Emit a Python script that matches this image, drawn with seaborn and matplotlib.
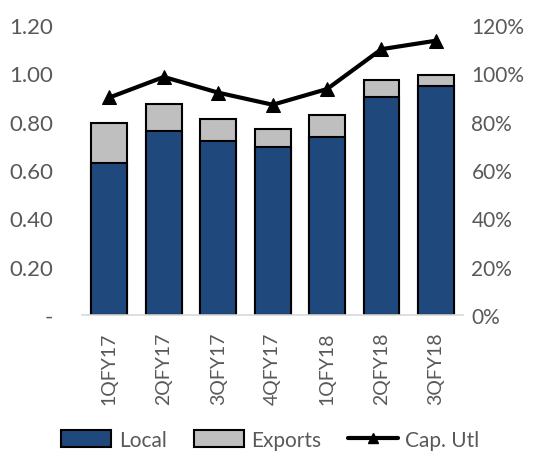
import pandas as pd
import seaborn as sns
import matplotlib.pyplot as plt
from matplotlib.patches import Patch
from matplotlib.lines import Line2D
from matplotlib.ticker import FuncFormatter

quarters = ['1QFY17', '2QFY17', '3QFY17', '4QFY17', '1QFY18', '2QFY18', '3QFY18']
local = [0.63, 0.762, 0.721, 0.696, 0.737, 0.904, 0.946]
exports = [0.166, 0.112, 0.092, 0.075, 0.092, 0.068, 0.046]
cap_utl = [0.90, 0.985, 0.92, 0.87, 0.935, 1.10, 1.135]

BLUE = '#1F497D'
GREY = '#BFBFBF'
TXT = '#595959'

df = pd.DataFrame({'quarter': quarters, 'local': local, 'exports': exports, 'cap': cap_utl})
df['total'] = df['local'] + df['exports']

sns.set_style('white')
plt.rcParams['font.family'] = ['Lato', 'DejaVu Sans']

fig, ax = plt.subplots(figsize=(5.41, 4.56), dpi=100)
fig.subplots_adjust(left=0.152, right=0.856, bottom=0.307, top=0.943)

# stacked bars: total in grey, local drawn over it
sns.barplot(data=df, x='quarter', y='total', color=GREY, edgecolor='black',
            linewidth=1.5, width=0.66, saturation=1, ax=ax)
sns.barplot(data=df, x='quarter', y='local', color=BLUE, edgecolor='black',
            linewidth=1.5, width=0.66, saturation=1, ax=ax)

ax.set_ylim(0, 1.2)
ax.set_yticks([0, 0.2, 0.4, 0.6, 0.8, 1.0, 1.2])
ax.yaxis.set_major_formatter(FuncFormatter(lambda v, p: '-' if v == 0 else f'{v:.2f}'))
ax.set_xlabel('')
ax.set_ylabel('')
ax.tick_params(axis='y', labelsize=16, colors=TXT, length=0, pad=21)
ax.tick_params(axis='x', labelsize=14, colors=TXT, length=0, labelrotation=90, pad=12)
for s in ['top', 'right', 'left']:
    ax.spines[s].set_visible(False)
ax.spines['bottom'].set_color('#D9D9D9')
ax.spines['bottom'].set_linewidth(1.2)

ax2 = ax.twinx()
sns.lineplot(data=df, x='quarter', y='cap', sort=False, color='black', linewidth=3,
             marker='^', markersize=10, markeredgecolor='black', ax=ax2)
ax2.set_ylim(0, 1.2)
ax2.set_yticks([0, 0.2, 0.4, 0.6, 0.8, 1.0, 1.2])
ax2.yaxis.set_major_formatter(FuncFormatter(lambda v, p: f'{v*100:.0f}%'))
ax2.set_ylabel('')
ax2.tick_params(axis='y', labelsize=15, colors=TXT, length=0, pad=6)
for s in ax2.spines.values():
    s.set_visible(False)
ax.set_xlim(-0.5, len(quarters) - 0.5)

handles = [Patch(facecolor=BLUE, edgecolor='black', linewidth=1.5),
           Patch(facecolor=GREY, edgecolor='black', linewidth=1.5),
           Line2D([], [], color='black', linewidth=3, marker='^', markersize=7)]
leg = fig.legend(handles, ['Local', 'Exports', 'Cap. Utl'], loc='lower center',
                 bbox_to_anchor=(0.5, -0.03), ncol=3, frameon=False, fontsize=15,
                 handlelength=2.4, handleheight=0.9, handletextpad=0.35, columnspacing=1.3)
for t in leg.get_texts():
    t.set_color(TXT)

fig.savefig('out.png', dpi=100)
